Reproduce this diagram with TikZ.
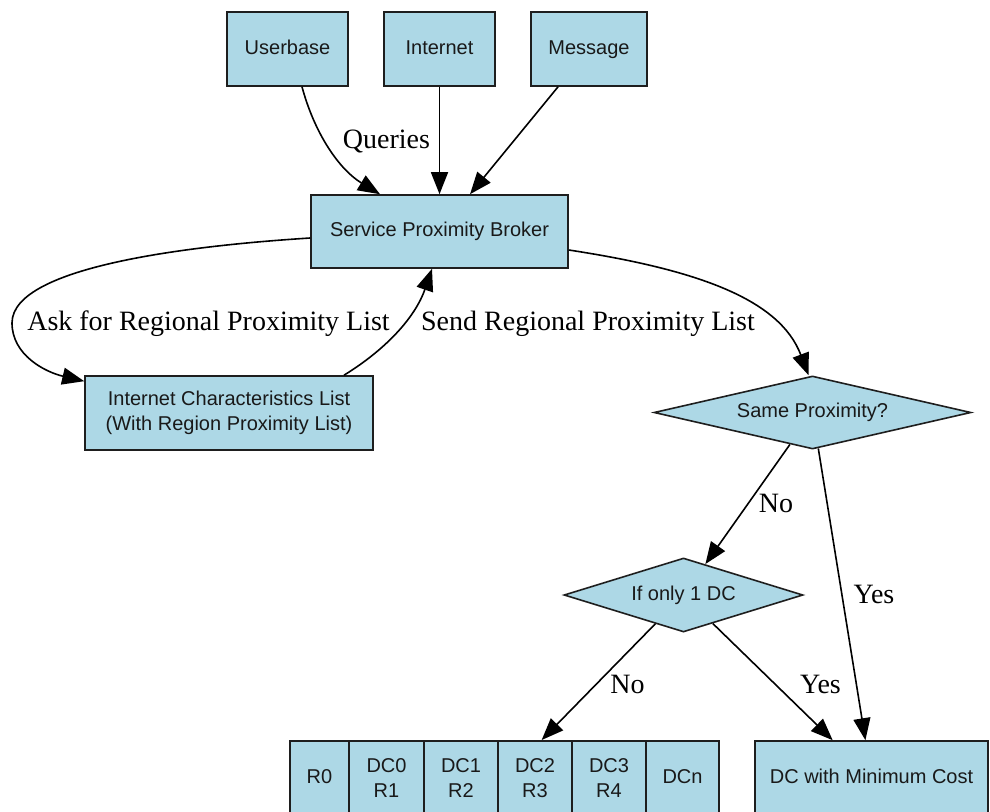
\documentclass[tikz,border=0pt]{standalone}
\usepackage{fontspec}
\setmainfont{Liberation Serif}
\setsansfont{Liberation Sans}
\usetikzlibrary{shapes.geometric,arrows.meta,fit}
\definecolor{boxfill}{RGB}{173,216,230}
\definecolor{inkline}{RGB}{30,30,30}
\begin{document}
\begin{tikzpicture}[x=1pt,y=-1pt,
  box/.style={draw=inkline,fill=boxfill,line width=1.6pt,rectangle,inner sep=0pt,
    minimum height=74pt,align=center,font=\sffamily\fontsize{20}{25}\selectfont,text=black!90},
  oneline/.style={text height=14.5pt,text depth=4.2pt},
  decision/.style={draw=inkline,fill=boxfill,line width=1.6pt,diamond,inner sep=0pt,
    align=center,font=\sffamily\fontsize{20}{25}\selectfont,text=black!90},
  flow/.style={draw=black,line width=1.6pt,-{Triangle[length=22pt,width=17pt]}},
  elabel/.style={font=\rmfamily\fontsize{28}{30}\selectfont,anchor=base,inner sep=0pt}]
\useasboundingbox (0,0) rectangle (990,811);
\clip (0,0) rectangle (990,811);

% sources
\node[box,oneline,minimum width=121pt] (ub) at (287.5,49) {Userbase};
\node[box,oneline,minimum width=111pt] (inet) at (439.5,49) {Internet};
\node[box,oneline,minimum width=116pt] (msg) at (589,49) {Message};

% broker and proximity list
\node[box,oneline,minimum width=257pt,minimum height=73pt] (spb) at (439.5,231.5) {Service Proximity Broker};
\node[box,minimum width=288pt] (icl) at (229,413) {Internet Characteristics List\\(With Region Proximity List)};

% decisions
\node[decision,shape aspect=4.3,minimum width=317pt,minimum height=73pt] (same) at (812.5,412.5) {Same Proximity?};
\node[decision,shape aspect=3.2,minimum width=239pt,minimum height=74pt] (one) at (683.5,595) {If only 1 DC};

% region / data-centre record
\node[box,oneline,minimum width=59pt] (c0) at (319.5,778) {R0};
\node[box,minimum width=75pt] (c1) at (386.5,778) {DC0\\R1};
\node[box,minimum width=74pt] (c2) at (461,778) {DC1\\R2};
\node[box,minimum width=74pt] (c3) at (535,778) {DC2\\R3};
\node[box,minimum width=74pt] (c4) at (609,778) {DC3\\R4};
\node[box,oneline,minimum width=73pt] (c5) at (682.5,778) {DCn};
\node[fit=(c0)(c5),inner sep=0pt] (rec) {};

\node[box,oneline,minimum width=233pt] (dcmin) at (871.5,778) {DC with Minimum Cost};

% inputs to the broker
\draw[flow] ([xshift=14.5pt]ub.south) .. controls (315,135) and (340,170) .. ([xshift=-59.5pt]spb.north);
\node[elabel] (lq) at (386.5,148) {Queries};
\draw[flow] (inet) -- (spb);
\draw[flow] (msg) -- (spb);

% proximity list exchange
\draw[flow] ([yshift=-6.5pt]spb.west) .. controls (200,245) and (12,265) .. (12,323)
  .. controls (12,355) and (45,372) .. ([yshift=-6pt]icl.north west);
\node[elabel] (lask) at (208.5,330) {Ask for Regional Proximity List};
\draw[flow] ([xshift=115pt]icl.north) .. controls (385,350) and (415,318) .. ([xshift=-7.5pt]spb.south);
\node[elabel] (lsend) at (588,330) {Send Regional Proximity List};

% decision flow
\draw[flow] ([yshift=-18.5pt]spb.east) .. controls (700,270) and (780,300) .. ([xshift=-4pt]same.north);
\draw[flow] (same) -- (one);
\node[elabel] (lno1) at (776,512) {No};
\draw[flow] (same) -- (dcmin);
\node[elabel] (lyes1) at (874,603) {Yes};
\draw[flow] (one) -- (rec);
\node[elabel] (lno2) at (627.5,693) {No};
\draw[flow] (one) -- (dcmin);
\node[elabel] (lyes2) at (820.5,693) {Yes};
\end{tikzpicture}
\end{document}
